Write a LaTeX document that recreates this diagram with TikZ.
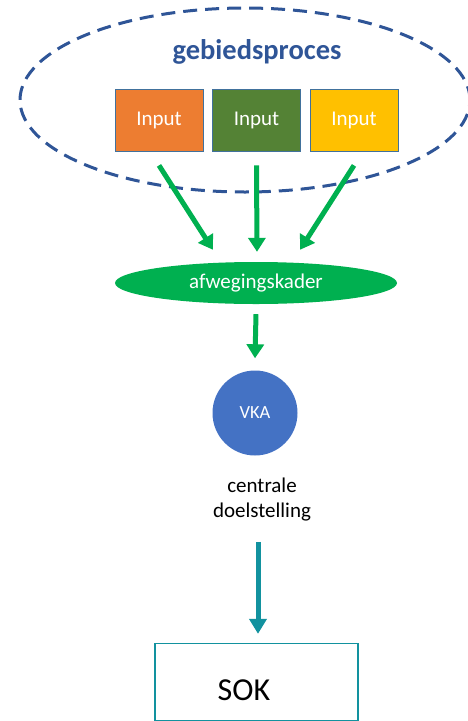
\documentclass[tikz,border=0pt]{standalone}
\usepackage{fontspec}
\setmainfont{Carlito}
\usetikzlibrary{arrows.meta,shapes.geometric}
\definecolor{dblue}{HTML}{2F5597}
\definecolor{borange}{HTML}{ED7D31}
\definecolor{bgreen}{HTML}{548235}
\definecolor{byellow}{HTML}{FFC000}
\definecolor{agreen}{HTML}{00B050}
\definecolor{vblue}{HTML}{4472C4}
\definecolor{teal2}{HTML}{12929F}
\definecolor{bordb}{HTML}{41719C}
\tikzset{
  inbox/.style={draw=bordb,line width=0.8pt,minimum width=88pt,minimum height=62pt,inner sep=0pt,text=white,font=\fontsize{21}{25}\selectfont},
  garr/.style={draw=agreen,line width=5pt,-{Triangle[width=17pt,length=14pt]}},
  tarr/.style={draw=teal2,line width=5pt,-{Triangle[width=17pt,length=15pt]}},
}
\begin{document}
\begin{tikzpicture}[x=1pt,y=-1pt]
\useasboundingbox (0,0) rectangle (468,721);
\node[ellipse,draw=dblue,dash pattern=on 14pt off 8pt,line width=3pt,minimum width=450pt,minimum height=184pt,inner sep=0pt] (proc) at (245,100) {};
\node[font=\bfseries\fontsize{28.5}{32}\selectfont,text=dblue] (title) at (257,52) {gebiedsproces};
\node[inbox,fill=borange] (in1) at (159,120) {Input};
\node[inbox,fill=bgreen] (in2) at (256.5,120) {Input};
\node[inbox,fill=byellow] (in3) at (354,120) {Input};
\node[ellipse,fill=agreen,minimum width=282pt,minimum height=42pt,inner sep=0pt,text=white,font=\fontsize{21}{25}\selectfont] (afw) at (256,283) {afwegingskader};
\node[circle,fill=vblue,minimum size=85pt,inner sep=0pt,text=white,font=\fontsize{18.5}{22}\selectfont] (vka) at (255,413) {VKA};
\node[align=center,font=\fontsize{21}{25}\selectfont,inner sep=0pt] (doel) at (262,500) {centrale\\doelstelling};
\node[draw=teal2,line width=1.3pt,minimum width=203pt,minimum height=77pt,inner sep=0pt] (sok) at (256.5,682) {};
\node[font=\fontsize{32}{36}\selectfont] (soktxt) at (244,690) {SOK};
\coordinate (tstart) at ([xshift=1.5pt,yshift=-20pt]doel.south -| sok.north);
\coordinate (tend) at ([xshift=1.5pt,yshift=9pt]sok.north);
\draw[garr] ([yshift=-14pt]in1.south) -- ([xshift=-43pt,yshift=12pt]afw.north);
\draw[garr] ([yshift=-14pt]in2.south) -- ([xshift=1pt,yshift=10pt]afw.north);
\draw[garr] ([yshift=-14pt]in3.south) -- ([xshift=44pt,yshift=12pt]afw.north);
\draw[garr] ([yshift=-10pt]afw.south) -- ([yshift=12pt]vka.north);
\draw[tarr] (tstart) -- (tend);
\end{tikzpicture}
\end{document}
